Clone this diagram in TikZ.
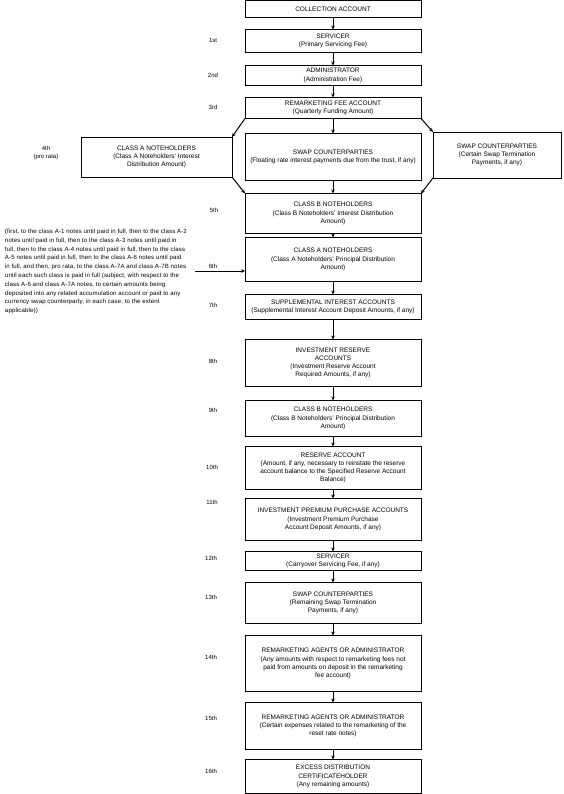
\documentclass[tikz,border=0pt]{standalone}
\usepackage{fontspec}
\setmainfont{Liberation Sans}
\newfontfamily\parfont[LetterSpace=2]{Liberation Sans}
\usetikzlibrary{positioning}
\usetikzlibrary{arrows.meta}

\begin{document}
\begin{tikzpicture}[x=1pt, y=-1pt,
			every node/.style={font=\fontsize{6.5}{8.2}\selectfont, outer sep=0pt},
			box/.style={draw, line width=0.8pt, minimum width=176pt,
				align=center, inner sep=1pt},
			ord/.style={inner sep=0pt, align=center, font=\fontsize{6}{8.2}\selectfont},
			flow/.style={->, line width=1pt},
			>={Stealth[length=4pt, width=3.6pt]}]
			\useasboundingbox (0,0) rectangle (563,794);
			% main column
			\node [box, minimum height=17pt, anchor=north] (coll) at (333,0.5) {COLLECTION ACCOUNT};
			\node [box, minimum height=23pt, below=12pt of coll] (serv1) {SERVICER\\(Primary Servicing Fee)};
			\node [box, minimum height=20pt, below=13pt of serv1] (admin) {ADMINISTRATOR\\(Administration Fee)};
			\node [box, minimum height=21pt, below=12pt of admin] (remfee) {REMARKETING FEE ACCOUNT\\(Quarterly Funding Amount)};
			\node [box, minimum height=47pt, below=15pt of remfee] (swapc) {SWAP COUNTERPARTIES\\(Floating rate interest payments due from the trust, if any)};
			\node [box, minimum height=40pt, below=13pt of swapc] (clsbi) {CLASS B NOTEHOLDERS\\(Class B Noteholders' Interest Distribution\\Amount)};
			\node [box, minimum height=44pt, below=4pt of clsbi] (clsap) {CLASS A NOTEHOLDERS\\(Class A Noteholders' Principal Distribution\\Amount)};
			\node [box, minimum height=25pt, below=13pt of clsap] (supp) {SUPPLEMENTAL INTEREST ACCOUNTS\\(Supplemental Interest Account Deposit Amounts, if any)};
			\node [box, minimum height=47pt, below=20pt of supp] (invres) {INVESTMENT RESERVE\\ACCOUNTS\\(Investment Reserve Account\\Required Amounts, if any)};
			\node [box, minimum height=36pt, below=14pt of invres] (clsbp) {CLASS B NOTEHOLDERS\\(Class B Noteholders' Principal Distribution\\Amount)};
			\node [box, minimum height=43pt, below=10pt of clsbp] (resv) {RESERVE ACCOUNT\\(Amount, if any, necessary to reinstate the reserve\\account balance to the Specified Reserve Account\\Balance)};
			\node [box, minimum height=42pt, below=9pt of resv] (ipp) {INVESTMENT PREMIUM PURCHASE ACCOUNTS\\(Investment Premium Purchase\\Account Deposit Amounts, if any)};
			\node [box, minimum height=19pt, below=11pt of ipp] (serv12) {SERVICER\\(Carryover Servicing Fee, if any)};
			\node [box, minimum height=41pt, below=12pt of serv12] (swap13) {SWAP COUNTERPARTIES\\(Remaining Swap Termination\\Payments, if any)};
			\node [box, minimum height=56pt, below=12pt of swap13] (remag14) {REMARKETING AGENTS OR ADMINISTRATOR\\(Any amounts with respect to remarketing fees not\\paid from amounts on deposit in the remarketing\\fee account)};
			\node [box, minimum height=47pt, below=11pt of remag14] (remag15) {REMARKETING AGENTS OR ADMINISTRATOR\\(Certain expenses related to the remarketing of the\\reset rate notes)};
			\node [box, minimum height=34pt, below=10pt of remag15] (excess) {EXCESS DISTRIBUTION\\CERTIFICATEHOLDER\\(Any remaining amounts)};
			% side boxes (4th, pro rata)
			\node [box, minimum width=151pt, minimum height=40pt] (clsa4) at (156.5,157) {CLASS A NOTEHOLDERS\\(Class A Noteholders' Interest\\Distribution Amount)};
			\node [box, minimum width=128pt, minimum height=46pt] (swapr) at (497,155) {SWAP COUNTERPARTIES\\(Certain Swap Termination\\Payments, if any)};
			% order labels
			\node [ord] (o1) at (213,40) {1st};
			\node [ord] (o2) at (213,75) {2nd};
			\node [ord] (o3) at (213,107) {3rd};
			\node [ord] (o4) at (46,153) {4th\\(pro rata)};
			\node [ord] (o5) at (214,210) {5th};
			\node [ord] (o6) at (213,266) {6th};
			\node [ord] (o7) at (213,305) {7th};
			\node [ord] (o8) at (213,361) {8th};
			\node [ord] (o9) at (213,410) {9th};
			\node [ord] (o10) at (212,467) {10th};
			\node [ord] (o11) at (212,502) {11th};
			\node [ord] (o12) at (211,558) {12th};
			\node [ord] (o13) at (211,597) {13th};
			\node [ord] (o14) at (211,657) {14th};
			\node [ord] (o15) at (211,718) {15th};
			\node [ord] (o16) at (211,771) {16th};
			\node [anchor=north west, inner sep=0pt, align=left,
					font=\parfont\fontsize{6.1}{8.8}\selectfont] (seq) at (5,229)
				{(first, to the class A-1 notes until paid in full, then to the class A-2\\
				notes until paid in full, then to the class A-3 notes until paid in\\
				full, then to the class A-4 notes until paid in full, then to the class\\
				A-5 notes until paid in full, then to the class A-6 notes until paid\\
				in full, and then, pro rata, to the class A-7A and class A-7B notes\\
				until each such class is paid in full (subject, with respect to the\\
				class A-6 and class A-7A notes, to certain amounts being\\
				deposited into any related accumulation account or paid to any\\
				currency swap counterparty, in each case, to the extent\\
				applicable))};
			\coordinate (sixin) at (195,271);
			% connectors
			\path [flow]
				(coll) edge [] (serv1)
				(serv1) edge [] (admin)
				(admin) edge [] (remfee)
				(remfee) edge [] (swapc)
				(remfee.south west) edge [] (clsa4.north east)
				(remfee.south east) edge [] (swapr.north west)
				(clsa4.south east) edge [] (clsbi.north west)
				(swapr.south west) edge [] (clsbi.north east)
				(swapc) edge [] (clsbi)
				(clsbi) edge [] (clsap)
				(sixin) edge [] (sixin -| clsap.west)
				(clsap) edge [] (supp)
				(supp) edge [] (invres)
				(invres) edge [] (clsbp)
				(clsbp) edge [] (resv)
				(resv) edge [] (ipp)
				(ipp) edge [] (serv12)
				(serv12) edge [] (swap13)
				(swap13) edge [] (remag14)
				(remag14) edge [] (remag15)
				(remag15) edge [] (excess);
		\end{tikzpicture}
\end{document}
